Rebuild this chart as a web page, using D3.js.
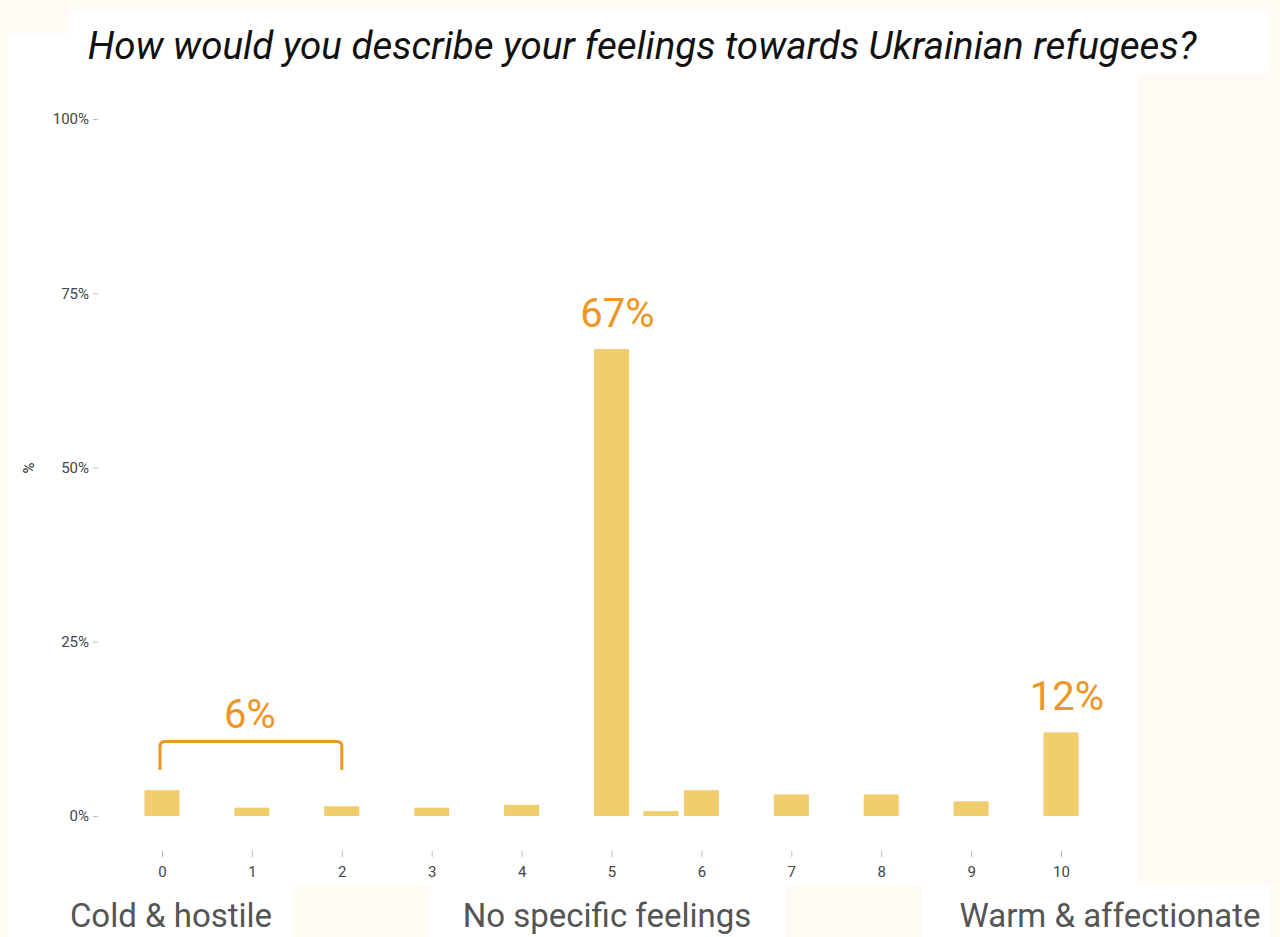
<!DOCTYPE html>
<html>
<head>
<meta charset="utf-8">
<script src="https://cdn.jsdelivr.net/npm/d3@7"></script>
<style>
  html, body { margin: 0; padding: 0; background: #fffaf4; }
  svg { display: block; }
</style>
</head>
<body>
<svg id="chart" width="1280" height="937"></svg>
<script>
// Survey answers on a 0–10 scale (share of respondents)
const scores = [0, 1, 2, 3, 4, 5, 5.55, 6, 7, 8, 9, 10];
const shares = [0.037, 0.012, 0.014, 0.012, 0.016, 0.67, 0.007, 0.037, 0.031, 0.031, 0.021, 0.12];
const xTicks = [0, 1, 2, 3, 4, 5, 6, 7, 8, 9, 10];
const yTicks = [0, 0.25, 0.5, 0.75, 1];
const scaleLabels = ["Cold & hostile", "No specific feelings", "Warm & affectionate"];
const titleText = "How would you describe your feelings towards Ukrainian refugees?";
// Highlighted totals: [from score, to score, share]
const callouts = [
  { from: 0, to: 2, value: 0.06 },
  { from: 5, to: 5, value: 0.67 },
  { from: 10, to: 10, value: 0.12 }
];

const svg = d3.select("#chart");
const W = 1280, H = 937;

// page panels
svg.append("rect").attr("x", 0).attr("y", 0).attr("width", W).attr("height", H).attr("fill", "#fffaf4");
svg.append("rect").attr("x", 8).attr("y", 34).attr("width", 1130).attr("height", 851).attr("fill", "#ffffff");
svg.append("rect").attr("x", 69).attr("y", 10).attr("width", 1200).attr("height", 64).attr("fill", "#ffffff");
[[8, 285], [429, 357], [922, 348]].forEach(([x, w]) => {
  svg.append("rect").attr("x", x).attr("y", 885).attr("width", w).attr("height", 52).attr("fill", "#ffffff");
});

const x = d3.scaleLinear().domain([0, 10]).range([162, 1061]);
const y = d3.scaleLinear().domain([0, 1]).range([816, 119]);
const barW = (x(1) - x(0)) * 0.39;

// title
svg.append("text")
  .attr("x", 642).attr("y", 59)
  .attr("text-anchor", "middle")
  .attr("font-family", "Roboto, sans-serif")
  .attr("font-style", "italic")
  .attr("font-size", 38.5)
  .attr("fill", "#111")
  .text(titleText);

// y axis
const yAxis = svg.append("g")
  .attr("transform", "translate(98,0)")
  .call(d3.axisLeft(y).tickValues(yTicks).tickSize(5).tickPadding(4).tickFormat(d3.format(".0%")));
yAxis.select(".domain").remove();
yAxis.selectAll("line").attr("stroke", "#bbbbbb");
yAxis.selectAll("text").attr("font-family", "Roboto, sans-serif").attr("font-size", 15).attr("fill", "#444");

svg.append("text")
  .attr("transform", "translate(34,468) rotate(-90)")
  .attr("text-anchor", "middle")
  .attr("font-family", "Roboto, sans-serif")
  .attr("font-size", 15)
  .attr("fill", "#222")
  .text("%");

// x axis
const xAxis = svg.append("g")
  .attr("transform", "translate(0,851)")
  .call(d3.axisBottom(x).tickValues(xTicks).tickSize(6).tickPadding(9).tickFormat(d3.format("d")));
xAxis.select(".domain").remove();
xAxis.selectAll("line").attr("stroke", "#bbbbbb");
xAxis.selectAll("text").attr("font-family", "Roboto, sans-serif").attr("font-size", 15).attr("fill", "#444");

// bars
svg.append("g").selectAll("rect")
  .data(scores.map((s, i) => ({ s, v: shares[i] })))
  .join("rect")
  .attr("x", d => x(d.s) - barW / 2)
  .attr("y", d => y(d.v))
  .attr("width", barW)
  .attr("height", d => y(0) - y(d.v))
  .attr("fill", "#f1cd6e");

// callouts
const orange = "#ef9524";
callouts.forEach(c => {
  const cx = (x(c.from) + x(c.to)) / 2;
  if (c.from !== c.to) {
    const top = y(0.107), bot = y(0.066), r = 5;
    const x0 = x(c.from) - 2, x1 = x(c.to);
    svg.append("path")
      .attr("d", `M${x0},${bot} L${x0},${top + r} Q${x0},${top} ${x0 + r},${top} L${x1 - r},${top} Q${x1},${top} ${x1},${top + r} L${x1},${bot}`)
      .attr("fill", "none")
      .attr("stroke", orange)
      .attr("stroke-width", 3);
    svg.append("text")
      .attr("x", cx - 2).attr("y", top - 13)
      .attr("text-anchor", "middle")
      .attr("font-family", "Roboto, sans-serif")
      .attr("font-size", 40)
      .attr("fill", orange)
      .text(d3.format(".0%")(c.value));
  } else {
    svg.append("text")
      .attr("x", cx + 6).attr("y", y(c.value) - 22)
      .attr("text-anchor", "middle")
      .attr("font-family", "Roboto, sans-serif")
      .attr("font-size", 40)
      .attr("fill", orange)
      .text(d3.format(".0%")(c.value));
  }
});

// scale end labels
[171, 607, 1110].forEach((cx, i) => {
  svg.append("text")
    .attr("x", cx).attr("y", 927)
    .attr("text-anchor", "middle")
    .attr("font-family", "Roboto, sans-serif")
    .attr("font-size", 33)
    .attr("fill", "#555")
    .text(scaleLabels[i]);
});
</script>
</body>
</html>
